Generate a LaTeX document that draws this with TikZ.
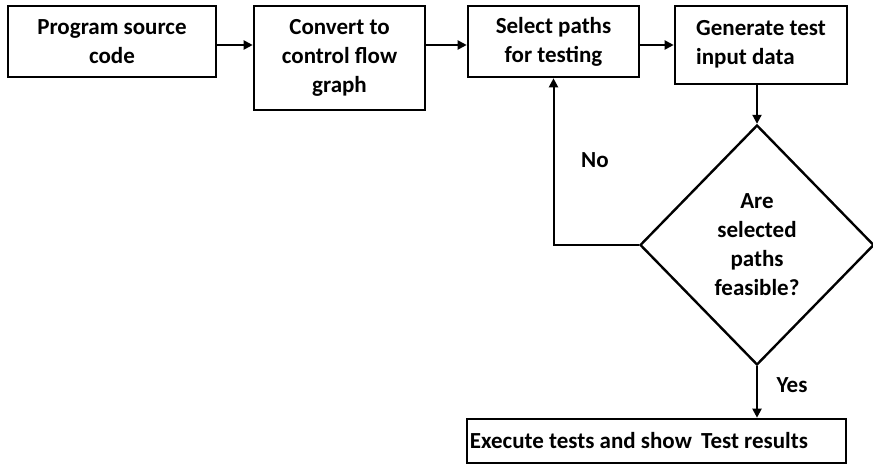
\documentclass[tikz,border=0pt]{standalone}
\usepackage{fontspec}
\setmainfont{Carlito}
\usetikzlibrary{arrows.meta,shapes.geometric}
\begin{document}
\begin{tikzpicture}[x=1pt,y=-1pt,
  txt/.style={font=\bfseries\fontsize{23}{29}\selectfont},
  box/.style={txt, draw, line width=2.6pt, rectangle, inner sep=0pt, align=center},
  conn/.style={line width=2pt, -{Triangle[length=9pt,width=9pt]}},
  decision/.style={txt, draw, line width=2.4pt, diamond, inner sep=0pt, align=center, minimum width=234pt, minimum height=240pt}]
\useasboundingbox (0,0) rectangle (873,466);
\node[box, minimum width=208pt, minimum height=71pt] (b1) at (112,41.5) {Program source\\code};
\node[box, minimum width=171pt, minimum height=104pt] (b2) at (339.5,58) {Convert to\\control flow\\graph};
\node[box, minimum width=171pt, minimum height=71pt] (b3) at (553.5,41.5) {Select paths\\for testing};
\node[box, minimum width=172pt, minimum height=78pt] (b4) at (761,45) {};
\node[txt, align=left, inner sep=0pt] (t4) at ([yshift=1pt]b4.center) {Generate test\\input data};
\node[decision] (d) at (757,245) {Are\\selected\\paths\\feasible?};
\node[box, minimum width=379pt, minimum height=44pt] (b5) at (656.5,441) {};
\node[txt, anchor=west, inner sep=0pt] (t5) at ([xshift=4pt]b5.west) {Execute tests and show\hspace{0.4em}Test results};
\coordinate (r1) at (0,45);
\draw[conn] (b1.east |- r1) -- (b2.west |- r1);
\draw[conn] (b2.east |- r1) -- (b3.west |- r1);
\draw[conn] (b3.east |- r1) -- (b4.west |- r1);
\draw[conn] (d.north |- b4.south) -- (d.north);
\draw[conn] (d.west) -| (b3.south);
\draw[conn] (d.south) -- (d.south |- b5.north);
\node[txt] (no) at (595,160) {No};
\node[txt] (yes) at (792,385) {Yes};
\end{tikzpicture}
\end{document}
